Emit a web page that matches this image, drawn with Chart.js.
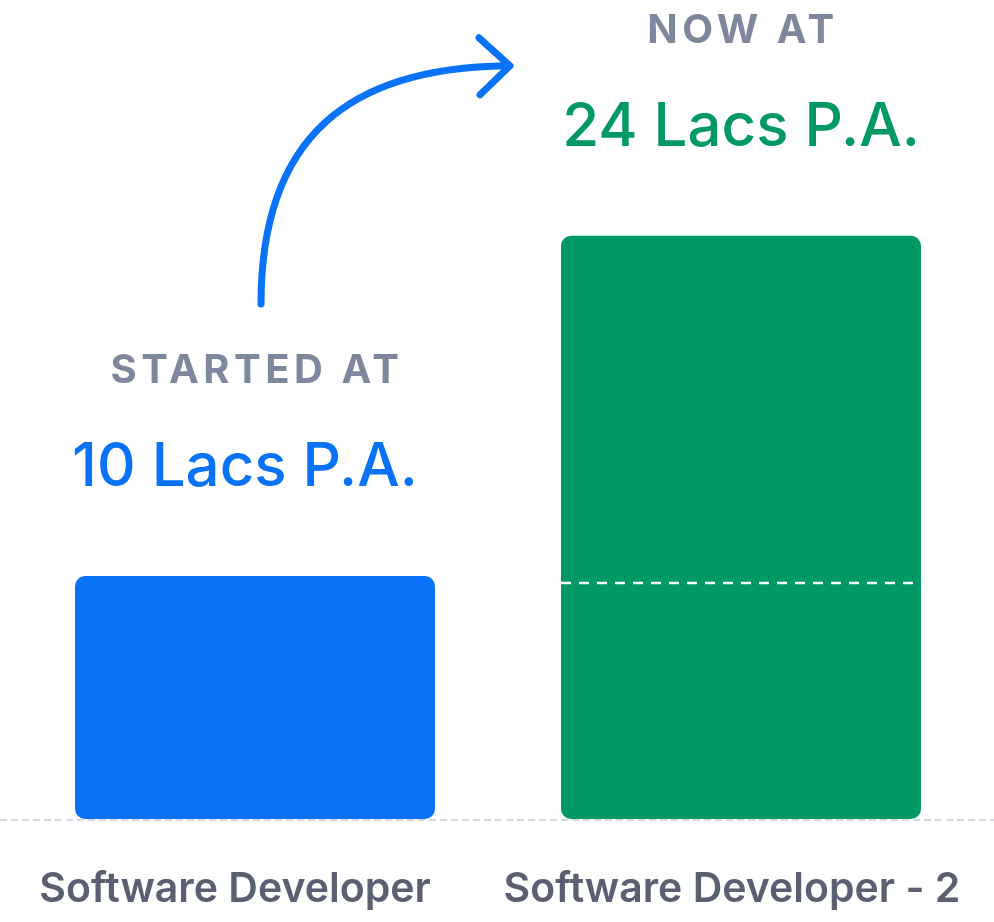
<!DOCTYPE html>
<html>
<head>
<meta charset="utf-8">
<script src="https://cdn.jsdelivr.net/npm/chart.js@4.4.1/dist/chart.umd.min.js"></script>
<style>
  html, body { margin: 0; padding: 0; background: #ffffff; }
  canvas { display: block; }
</style>
</head>
<body>
<canvas id="salaryChart" width="994" height="922"></canvas>
<script>
const roles = ['Software Developer', 'Software Developer - 2'];
const salaries = [10, 24];
const captions = ['STARTED AT', 'NOW AT'];
const valueLabels = ['10 Lacs P.A.', '24 Lacs P.A.'];
const barColors = ['#0872f9', '#009963'];

const FONT = 'Inter, "Noto Sans", sans-serif';

// labels, arrow, dashed lines
const decorations = {
    id: 'decorations',
    beforeDatasetsDraw(chart) {
        const ctx = chart.ctx;
        const y0 = chart.scales.y.getPixelForValue(0);
        ctx.save();
        ctx.strokeStyle = '#d9d9e6';
        ctx.lineWidth = 2;
        ctx.setLineDash([7, 4]);
        ctx.beginPath();
        ctx.moveTo(0, y0 + 1);
        ctx.lineTo(chart.width, y0 + 1);
        ctx.stroke();
        ctx.restore();
    },
    afterDatasetsDraw(chart) {
        const ctx = chart.ctx;
        const bars = chart.getDatasetMeta(0).data;
        const yScale = chart.scales.y;

        // previous level marker inside the second bar
        const prevY = yScale.getPixelForValue(salaries[0]) + 7;
        const b1 = bars[1];
        ctx.save();
        ctx.strokeStyle = '#ffffff';
        ctx.lineWidth = 2.5;
        ctx.setLineDash([10, 8]);
        ctx.beginPath();
        ctx.moveTo(b1.x - b1.width / 2, prevY);
        ctx.lineTo(b1.x + b1.width / 2, prevY);
        ctx.stroke();
        ctx.restore();

        bars.forEach(function(bar, i) {
            ctx.save();
            ctx.textAlign = 'center';
            ctx.textBaseline = 'alphabetic';

            ctx.fillStyle = '#7e879c';
            ctx.font = '700 40px ' + FONT;
            ctx.letterSpacing = '4.5px';
            ctx.fillText(captions[i], bar.x + 2, bar.y - 193);

            ctx.letterSpacing = '0px';
            ctx.fillStyle = barColors[i];
            ctx.font = '500 60px ' + FONT;
            ctx.fillText(valueLabels[i], bar.x - (i === 0 ? 10 : 0), bar.y - 90);

            ctx.fillStyle = '#5a6071';
            ctx.font = '600 41px ' + FONT;
            ctx.fillText(roles[i], bar.x - 20 + i * 11, 902);
            ctx.restore();
        });

        // arrow from first caption to second bar
        const b0 = bars[0];
        const sx = b0.x + 6, sy = b0.y - 272;
        const ex = b1.x - b1.width / 2 - 51, ey = b1.y - 170;
        ctx.save();
        ctx.strokeStyle = barColors[0];
        ctx.lineWidth = 7;
        ctx.lineCap = 'round';
        ctx.lineJoin = 'round';
        ctx.beginPath();
        ctx.moveTo(sx, sy);
        ctx.bezierCurveTo(sx, sy - 0.7 * (sy - ey), sx + 0.35 * (ex - sx), ey + 2, ex - 3, ey);
        ctx.stroke();
        ctx.beginPath();
        ctx.moveTo(ex - 31, ey - 28);
        ctx.lineTo(ex, ey);
        ctx.lineTo(ex - 30, ey + 29);
        ctx.stroke();
        ctx.restore();
    }
};

const data = {
    labels: roles,
    datasets: [{
        data: salaries,
        backgroundColor: barColors,
        borderRadius: 10,
        borderSkipped: false,
        categoryPercentage: 1,
        barPercentage: 0.7407,
    }],
};

const config = {
    type: 'bar',
    data: data,
    options: {
        responsive: false,
        animation: false,
        layout: {
            padding: { left: 12, right: 10, top: 90, bottom: 103 }
        },
        scales: {
            x: { display: false },
            y: { display: false, min: 0, max: 30 }
        },
        plugins: {
            legend: { display: false },
            tooltip: { enabled: false }
        }
    },
    plugins: [decorations]
};

new Chart(document.getElementById('salaryChart'), config);
</script>
</body>
</html>
